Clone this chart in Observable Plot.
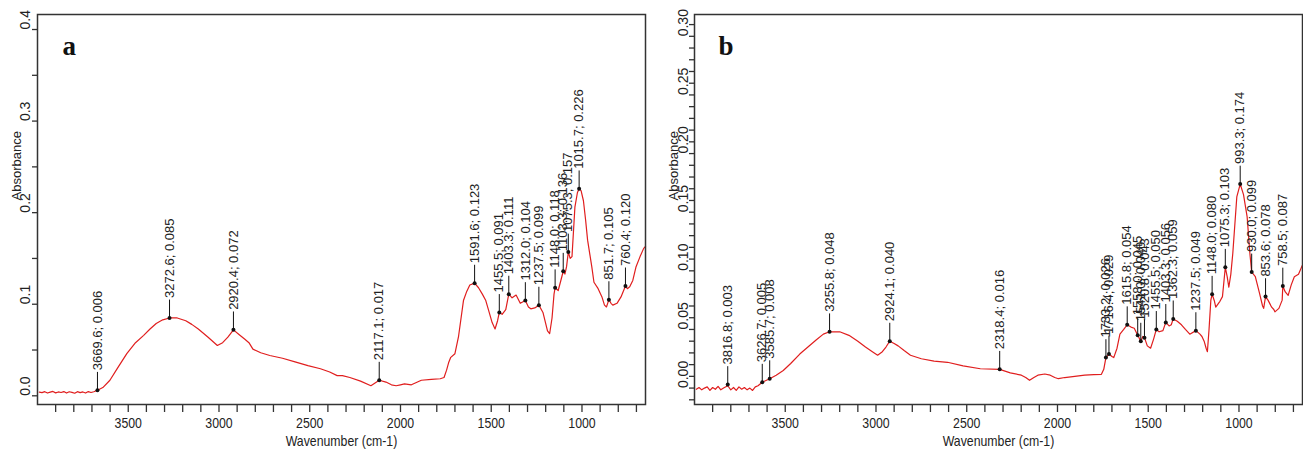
<!DOCTYPE html>
<html>
<head>
<meta charset="utf-8">
<script src="https://cdn.jsdelivr.net/npm/d3@7"></script>
<script src="https://cdn.jsdelivr.net/npm/@observablehq/plot@0.6"></script>
<style>
  html, body { margin: 0; padding: 0; background: #fff; }
  #wrap { display: flex; width: 1303px; height: 450px; overflow: hidden; }
  #wrap > div { flex: none; }
</style>
</head>
<body>
<div id="wrap"><div id="pa"></div><div id="pb"></div></div>
<script>
// ---------- Panel a : spectrum ----------
const waveA = [3990,3975,3960,3945,3930,3915,3900,3885,3870,3855,3840,3825,3810,3795,3780,3765,3750,3735,3720,3705,3690,3669.6,3640,3601,3560,3508,3460,3415,3380,3346,3310,3272.6,3230,3183,3150,3114,3060,3009,2980,2951,2920.4,2890,2859,2835,2813,2770,2720,2650,2581,2510,2441,2390,2349,2320,2279,2220,2163,2140,2117.1,2080,2050,2024,2000,1978,1940,1885,1830,1781,1760,1746,1735,1723,1700,1680,1653,1635,1618,1591.6,1570,1549,1530,1514,1495,1479,1465,1455.5,1440,1420,1403.3,1385,1363,1340,1312.0,1295,1282,1260,1237.5,1215,1190,1178,1165,1154,1148.0,1131,1115,1103.3,1094,1085,1075.3,1065,1055,1039,1025,1015.7,1005,992,980,969,946,934,911,890,876,865,851.7,840,830,807,785,760.4,750,737,720,702,680,660,650];
const absA = [0.004,0.0035,0.0045,0.003,0.004,0.0048,0.0032,0.0042,0.0036,0.0046,0.003,0.0044,0.0038,0.0028,0.0045,0.0035,0.0042,0.003,0.0046,0.0036,0.0044,0.006,0.009,0.017,0.030,0.046,0.058,0.066,0.073,0.079,0.083,0.085,0.085,0.082,0.078,0.073,0.064,0.055,0.058,0.064,0.072,0.067,0.062,0.058,0.051,0.047,0.044,0.041,0.037,0.033,0.0295,0.026,0.022,0.022,0.020,0.016,0.011,0.014,0.017,0.015,0.012,0.011,0.012,0.013,0.012,0.017,0.018,0.0186,0.020,0.028,0.036,0.042,0.046,0.065,0.104,0.114,0.121,0.123,0.118,0.111,0.104,0.093,0.080,0.073,0.082,0.091,0.089,0.094,0.111,0.107,0.110,0.101,0.104,0.097,0.095,0.096,0.099,0.091,0.071,0.068,0.085,0.111,0.118,0.115,0.127,0.136,0.133,0.141,0.157,0.150,0.152,0.206,0.222,0.226,0.224,0.213,0.192,0.170,0.141,0.124,0.117,0.108,0.099,0.097,0.105,0.101,0.099,0.101,0.108,0.120,0.117,0.119,0.126,0.141,0.152,0.161,0.163];
const peakWaveA = [3669.6,3272.6,2920.4,2117.1,1591.6,1455.5,1403.3,1312.0,1237.5,1148.0,1103.3,1075.3,1015.7,851.7,760.4];
const peakAbsA  = [0.006,0.085,0.072,0.017,0.123,0.091,0.111,0.104,0.099,0.118,0.136,0.157,0.226,0.105,0.120];
const yTickLabelsA = [0.0,0.1,0.2,0.3,0.4];
const yTickMarksA = [0,0.05,0.1,0.15,0.2,0.25,0.3,0.35,0.4];

// ---------- Panel b : spectrum ----------
const waveB = [3990,3975,3960,3945,3930,3915,3900,3885,3870,3855,3840,3816.8,3800,3785,3770,3755,3740,3725,3710,3695,3680,3665,3650,3626.7,3585.7,3550,3511,3470,3420,3375,3330,3290,3255.8,3200,3149,3100,3058,3020,2991,2965,2945,2924.1,2900,2878,2845,2810,2750,2680,2606,2520,2425,2318.4,2260,2199,2175,2154,2130,2108,2070,2040,2015,1995,1960,1905,1850,1800,1758,1745,1733.2,1716.4,1700,1690,1672,1656,1635,1615.8,1595,1577,1558,1541,1530,1520.8,1505,1487,1470,1455.5,1440,1419,1403.3,1385,1373,1362.3,1340,1317,1295,1271,1237.5,1215,1204,1192,1181,1174,1165,1155,1148.0,1135,1128,1105,1091,1075.3,1065,1056,1045,1034,1012,993.3,975,955,940,930.0,910,887,870,864,853.6,840,820,808,802,780,762,758.5,745,729,712,695,672,650];
const absB = [-0.001,0.0005,-0.0015,0.000,0.001,-0.002,0.0005,-0.001,0.0015,-0.0015,0.000,0.002,-0.0015,0.0005,-0.002,0.001,-0.001,0.0005,-0.0015,0.000,-0.002,0.001,0.002,0.005,0.008,0.011,0.015,0.021,0.029,0.035,0.041,0.046,0.048,0.048,0.045,0.040,0.035,0.031,0.028,0.031,0.035,0.040,0.038,0.036,0.032,0.028,0.025,0.023,0.022,0.019,0.0165,0.016,0.013,0.011,0.009,0.0066,0.009,0.011,0.012,0.011,0.009,0.008,0.009,0.010,0.011,0.0115,0.0117,0.016,0.026,0.029,0.027,0.026,0.034,0.046,0.050,0.054,0.052,0.051,0.045,0.040,0.044,0.043,0.036,0.034,0.042,0.050,0.048,0.049,0.056,0.053,0.054,0.059,0.057,0.054,0.050,0.046,0.049,0.046,0.044,0.040,0.034,0.031,0.050,0.075,0.080,0.074,0.069,0.074,0.078,0.103,0.095,0.086,0.097,0.115,0.163,0.174,0.165,0.146,0.115,0.099,0.095,0.081,0.070,0.068,0.078,0.075,0.069,0.067,0.065,0.068,0.075,0.087,0.082,0.079,0.088,0.095,0.097,0.105];
const peakWaveB = [3816.8,3626.7,3585.7,3255.8,2924.1,2318.4,1733.2,1716.4,1615.8,1558.0,1541.0,1520.8,1455.5,1403.3,1362.3,1237.5,1148.0,1075.3,993.3,930.0,853.6,758.5];
const peakAbsB  = [0.003,0.005,0.008,0.048,0.040,0.016,0.026,0.029,0.054,0.045,0.040,0.043,0.050,0.056,0.059,0.049,0.080,0.103,0.174,0.099,0.078,0.087];
const yTickLabelsB = [0.00,0.05,0.10,0.15,0.20,0.25,0.30];
const yTickMarksB = d3.range(-1, 32).map(i => i / 100);

const xTicks = d3.range(700, 4000, 100);
const xLabelTicks = [3500, 3000, 2500, 2000, 1500, 1000];

const SANS = "'Liberation Sans', Arial, sans-serif";
const SERIF = "'Liberation Serif', 'Times New Roman', serif";

const leader = { draw(context, l) { context.moveTo(0, 0); context.lineTo(0, -l); } };

function panel(o) {
  const line = o.waves.map((w, i) => ({w, a: o.abs[i]}));
  const peaks = o.pw.map((w, i) => ({w, a: o.pa[i], label: `${w.toFixed(1)}; ${o.pa[i].toFixed(3)}`}));
  return Plot.plot({
    width: o.width, height: 450,
    marginLeft: o.marginLeft, marginRight: o.marginRight, marginTop: 14, marginBottom: 46,
    style: {background: "#fff", overflow: "visible"},
    x: {domain: [4000, 650]},
    y: {domain: o.yDomain},
    marks: [
      Plot.axisX({ticks: xTicks, tickSize: 8, tickPadding: 5, stroke: "#333", strokeWidth: 1.3,
        tickFormat: d => xLabelTicks.includes(d) ? String(d) : "", fontSize: 15, fontFamily: SANS, fill: "#222", label: null,
        className: "narrow"}),
      Plot.axisY({ticks: o.yTickMarks, tickSize: 5, stroke: "#333", strokeWidth: 1.3, tickFormat: () => "", label: null}),
      Plot.text(o.yTickLabels, {y: d => d, text: d => d.toFixed(o.yDigits), frameAnchor: "left", dx: o.yLabelDx,
        rotate: -90, fontSize: 14, fontFamily: SANS, fill: "#222"}),
      Plot.text(["Absorbance"], {frameAnchor: "left", dx: -21, dy: -9, rotate: -90, fontSize: 13, fontFamily: SANS, fill: "#222"}),
      Plot.text(["Wavenumber (cm-1)"], {frameAnchor: "bottom", dy: 41, fontSize: 15, fontFamily: SANS, fill: "#222",
        className: "narrow"}),
      Plot.text([o.letter], {frameAnchor: "top-left", dx: o.letterDx, dy: 40, fontSize: 27, fontWeight: "bold",
        fontFamily: SERIF, textAnchor: "start", lineAnchor: "bottom", fill: "#111"}),
      Plot.line(line, {x: "w", y: "a", stroke: "#e01e1e", strokeWidth: 1.2}),
      Plot.vector(peaks, {x: "w", y: "a", length: 18, rotate: 0, anchor: "start", shape: leader, stroke: "#111", strokeWidth: 1}),
      Plot.dot(peaks, {x: "w", y: "a", r: 2, fill: "#111", stroke: null}),
      Plot.text(peaks, {x: "w", y: "a", text: "label", rotate: -90, textAnchor: "start", dy: -20,
        fontSize: 13, fontFamily: SANS, fill: "#222"}),
      Plot.frame({stroke: "#333", strokeWidth: 1.5})
    ]
  });
}

function condense(svg) {
  // emulate the condensed (Arial Narrow-like) face of the axis texts
  d3.select(svg).selectAll(".narrow text").each(function () {
    const len = this.getComputedTextLength();
    if (len > 0) {
      this.setAttribute("textLength", (len * 0.82).toFixed(1));
      this.setAttribute("lengthAdjust", "spacingAndGlyphs");
    }
  });
}

const svgA = panel({
  waves: waveA, abs: absA, pw: peakWaveA, pa: peakAbsA,
  yDomain: [-0.0095, 0.4164], yTickMarks: yTickMarksA, yTickLabels: yTickLabelsA, yDigits: 1, yLabelDx: -12,
  letter: "a", letterDx: 25, width: 652, marginLeft: 37, marginRight: 7
});
document.getElementById("pa").append(svgA);
condense(svgA);
const svgB = panel({
  waves: waveB, abs: absB, pw: peakWaveB, pa: peakAbsB,
  yDomain: [-0.014, 0.3186], yTickMarks: yTickMarksB, yTickLabels: yTickLabelsB, yDigits: 2, yLabelDx: -11,
  letter: "b", letterDx: 24, width: 651, marginLeft: 42, marginRight: 1
});
document.getElementById("pb").append(svgB);
condense(svgB);
</script>
</body>
</html>
